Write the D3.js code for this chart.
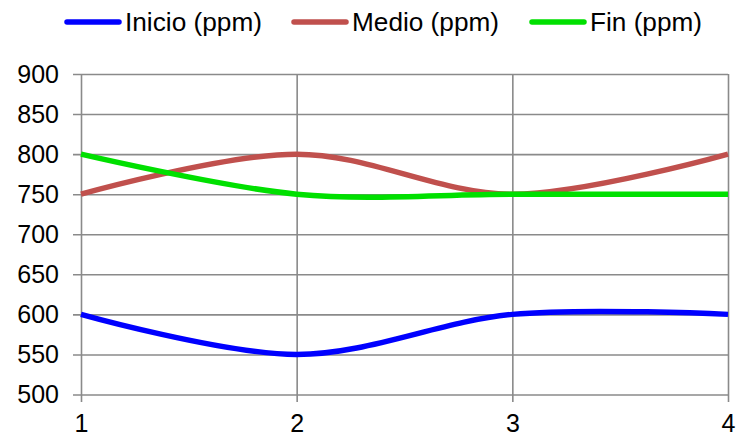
<!DOCTYPE html>
<html>
<head>
<meta charset="utf-8">
<script src="https://cdn.jsdelivr.net/npm/d3@7"></script>
<style>
  body { margin: 0; background: #fff; }
  svg { display: block; font-family: "Liberation Sans", Arial, sans-serif; }
</style>
</head>
<body>
<svg id="chart" width="736" height="438"></svg>
<script>
// chart data
const xValues = [1, 2, 3, 4];
const inicio = [600, 550, 600, 600];
const medio = [750, 800, 750, 800];
const fin = [800, 750, 750, 750];
const yTicks = [500, 550, 600, 650, 700, 750, 800, 850, 900];
const seriesNames = ["Inicio (ppm)", "Medio (ppm)", "Fin (ppm)"];
const seriesColors = ["#0000ff", "#c0504d", "#00e000"];

const svg = d3.select("#chart");
const margin = { top: 74, right: 8, bottom: 43.5, left: 81 };
const width = 736 - margin.left - margin.right;
const height = 438 - margin.top - margin.bottom;

const g = svg.append("g")
    .attr("transform", `translate(${margin.left},${margin.top})`);

const xScale = d3.scaleLinear().domain([1, 4]).range([0, width]);
const yScale = d3.scaleLinear().domain([500, 900]).range([height, 0]);

// horizontal grid + left ticks
g.append("g")
    .call(d3.axisLeft(yScale).tickValues(yTicks).tickPadding(16).tickFormat(d3.format("d")))
    .call(a => a.select(".domain").remove())
    .call(a => a.selectAll("line").attr("x1", -8).attr("x2", width).attr("stroke", "#8a8a8a").attr("stroke-width", 1.6))
    .call(a => a.selectAll("text").attr("font-size", 25).attr("fill", "#000").attr("font-family", "Liberation Sans, Arial, sans-serif"));

// vertical grid + bottom ticks
g.append("g")
    .attr("transform", `translate(0,${height})`)
    .call(d3.axisBottom(xScale).tickValues(xValues).tickFormat(d3.format("d")).tickPadding(14))
    .call(a => a.select(".domain").remove())
    .call(a => a.selectAll("line").attr("y1", 7.5).attr("y2", -height).attr("stroke", "#8a8a8a").attr("stroke-width", 1.6))
    .call(a => a.selectAll("text").attr("font-size", 25).attr("fill", "#000").attr("font-family", "Liberation Sans, Arial, sans-serif"));

// smoothed lines (Excel style)
const line = d3.line()
    .x((d, i) => xScale(xValues[i]))
    .y(d => yScale(d))
    .curve(d3.curveCardinal.tension(0));

[inicio, medio, fin].forEach((values, i) => {
  g.append("path")
      .datum(values)
      .attr("fill", "none")
      .attr("stroke", seriesColors[i])
      .attr("stroke-width", 5.5)
      .attr("stroke-linejoin", "round")
      .attr("d", line);
});

// legend
const legendX = [65, 292, 530];
const legendTextW = [137, 147, 112];
const legend = svg.append("g");
seriesNames.forEach((name, i) => {
  legend.append("line")
      .attr("x1", legendX[i] + 2).attr("x2", legendX[i] + 54)
      .attr("y1", 22).attr("y2", 22)
      .attr("stroke", seriesColors[i])
      .attr("stroke-width", 5.5)
      .attr("stroke-linecap", "round");
  legend.append("text")
      .attr("x", legendX[i] + 60)
      .attr("y", 31)
      .attr("font-size", 26)
      .attr("textLength", legendTextW[i])
      .attr("lengthAdjust", "spacingAndGlyphs")
      .text(name);
});
</script>
</body>
</html>
